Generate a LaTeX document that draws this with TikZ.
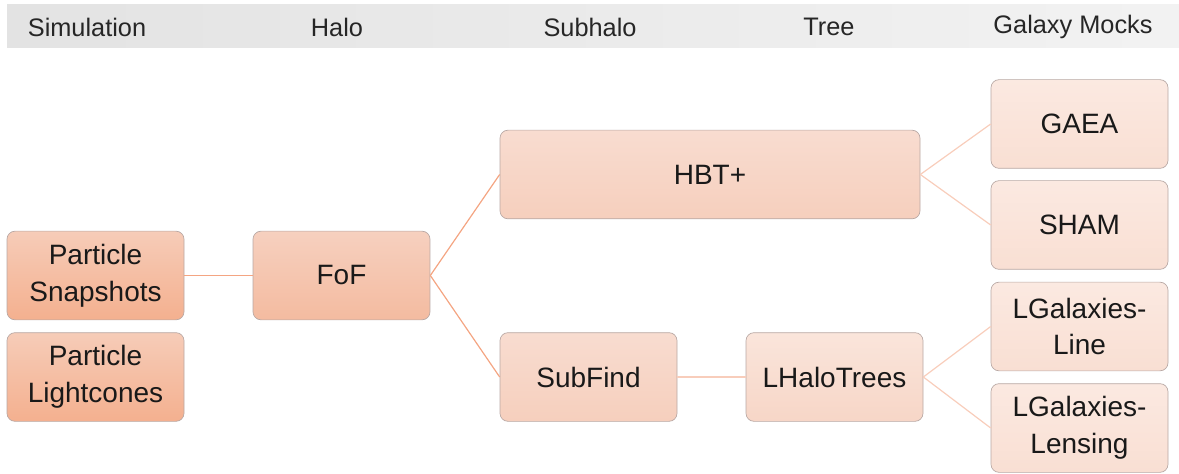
\documentclass[tikz,border=0pt]{standalone}
\usepackage{fontspec}
\setmainfont{Liberation Sans}
\usetikzlibrary{positioning}

\definecolor{lineA}{HTML}{F4A582}
\definecolor{lineB}{HTML}{F6BBA2}
\definecolor{lineC}{HTML}{F8CDBB}
\definecolor{edgegray}{HTML}{B8A8A4}

\begin{document}
\begin{tikzpicture}[
    x=0.75pt,
    y=-0.75pt,
    stage/.style={
        font=\fontsize{19}{22}\selectfont,
        text=black!85,
        anchor=center,
    },
    box/.style={
        draw=edgegray,
        line width=0.5pt,
        rounded corners=6pt,
        align=center,
        inner sep=0pt,
        minimum width=132.75pt,
        minimum height=66.5pt,
        font=\fontsize{21}{27.5}\selectfont,
        text=black!90,
    },
    simbox/.style={
        box,
        top color={rgb,255:red,246;green,204;blue,184},
        bottom color={rgb,255:red,244;green,176;blue,143},
    },
    halobox/.style={
        box,
        top color={rgb,255:red,246;green,208;blue,191},
        bottom color={rgb,255:red,244;green,187;blue,160},
    },
    subbox/.style={
        box,
        top color={rgb,255:red,248;green,220;blue,208},
        bottom color={rgb,255:red,246;green,207;blue,189},
    },
    treebox/.style={
        box,
        top color={rgb,255:red,250;green,229;blue,219},
        bottom color={rgb,255:red,247;green,214;blue,199},
    },
    mockbox/.style={
        box,
        top color={rgb,255:red,251;green,233;blue,225},
        bottom color={rgb,255:red,249;green,223;blue,211},
    },
    link/.style={
        line width=0.9pt,
    }
]
    \useasboundingbox (0,0) rectangle (1179,474);

    % Header band
    \shade[left color=black!11, middle color=black!15, right color=black!5]
        (7,5) rectangle (1179,48);
    \node[stage] (hsim) at (87,27) {Simulation};
    \node[stage] (hhalo) at (337,27) {Halo};
    \node[stage] (hsub) at (590,27) {Subhalo};
    \node[stage] (htree) at (829,27) {Tree};
    \node[stage] (hmock) at (1073,27) {Galaxy Mocks};

    % Simulation
    \node[simbox] (snap) at (95.5,275.5) {Particle\\Snapshots};
    \node[simbox] (cone) at (95.5,377) {Particle\\Lightcones};

    % Halo
    \node[halobox] (fof) at (341.5,275.5) {FoF};

    % Subhalo
    \node[subbox, minimum width=315pt] (hbt) at (710,174.5) {HBT+};
    \node[subbox] (subfind) at (588.5,377) {SubFind};

    % Tree
    \node[treebox] (lhalo) at (834.5,377) {LHaloTrees};

    % Galaxy mocks
    \node[mockbox] (gaea) at (1079.5,124) {GAEA};
    \node[mockbox] (sham) at (1079.5,225) {SHAM};
    \node[mockbox] (lgline) at (1079.5,326.5) {LGalaxies-\\Line};
    \node[mockbox] (lglens) at (1079.5,428) {LGalaxies-\\Lensing};

    % Links
    \draw[link, lineA] (snap.east) -- (fof.west);
    \draw[link, lineA] (fof.east) -- (hbt.west);
    \draw[link, lineA] (fof.east) -- (subfind.west);
    \draw[link, lineC] (hbt.east) -- (gaea.west);
    \draw[link, lineC] (hbt.east) -- (sham.west);
    \draw[link, lineC] (subfind.east) -- (lhalo.west);
    \draw[link, lineC] (lhalo.east) -- (lgline.west);
    \draw[link, lineC] (lhalo.east) -- (lglens.west);

\end{tikzpicture}
\end{document}
